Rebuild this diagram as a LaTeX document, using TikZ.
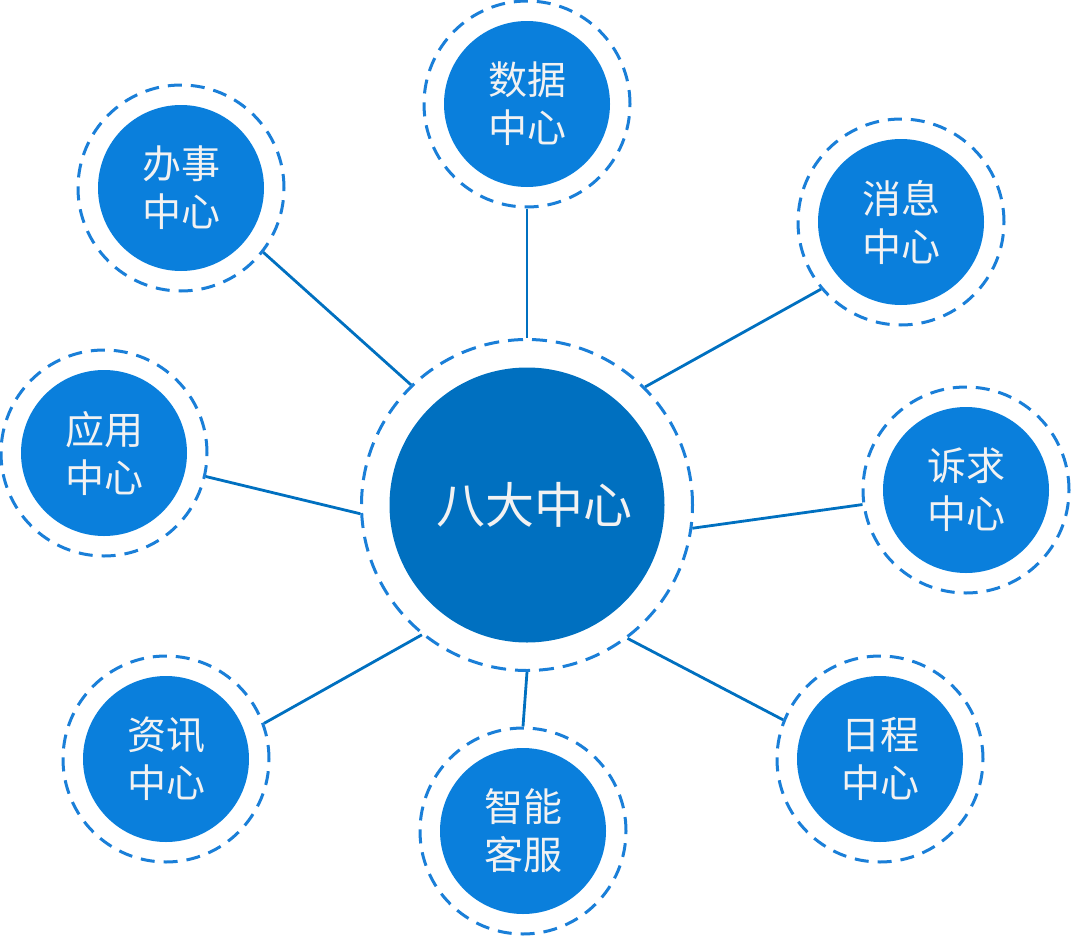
\documentclass[tikz,border=0pt]{standalone}
\usepackage{fontspec}
\newfontfamily\cjk{Noto Sans CJK SC}
\definecolor{sat}{HTML}{0A7FDC}
\definecolor{core}{HTML}{0070C0}
\definecolor{ringc}{HTML}{1A7FD8}
\definecolor{txt}{HTML}{F2F2F2}
\tikzset{
  satfill/.style={circle, fill=sat, minimum size=166pt, inner sep=0pt, text=txt,
    font=\cjk\fontsize{39}{48}\selectfont, align=center},
  satring/.style={circle, draw=ringc, line width=3pt, dash pattern=on 14pt off 9pt,
    minimum size=206pt, inner sep=0pt},
  corefill/.style={circle, fill=core, minimum size=275pt, inner sep=0pt, text=txt,
    font=\cjk\fontsize{49}{52}\selectfont},
  corering/.style={circle, draw=ringc, line width=3pt, dash pattern=on 15pt off 9pt,
    minimum size=331pt, inner sep=0pt},
  conn/.style={draw=core, line width=2.8pt}
}
\begin{document}
\begin{tikzpicture}[x=1pt,y=-1pt]
\useasboundingbox (0,0) rectangle (1071,937);
% center
\node[corering] (c) at (527,505) {};
\node[corefill] (cf) at (527,505) {\hspace{14pt}八大中心};
% satellites
\node[satring] (r1) at (527,104) {};
\node[satfill] (s1) at (527,104) {数据\\中心};
\node[satring] (r2) at (181,188) {};
\node[satfill] (s2) at (181,188) {办事\\中心};
\node[satring] (r3) at (901,222) {};
\node[satfill] (s3) at (901,222) {消息\\中心};
\node[satring] (r4) at (104,453) {};
\node[satfill] (s4) at (104,453) {应用\\中心};
\node[satring] (r5) at (966,490) {};
\node[satfill] (s5) at (966,490) {诉求\\中心};
\node[satring] (r6) at (166,759) {};
\node[satfill] (s6) at (166,759) {资讯\\中心};
\node[satring] (r7) at (523,831) {};
\node[satfill] (s7) at (523,831) {智能\\客服};
\node[satring] (r8) at (880,759) {};
\node[satfill] (s8) at (880,759) {日程\\中心};
% connectors
\draw[conn] (r1.270) -- (c.90);
\draw[conn] (r2.-38) -- (c.134.5);
\draw[conn] (r3.220.8) -- (c.45.2);
\draw[conn] (r4.-13.2) -- (c.183.5);
\draw[conn] (r5.188.2) -- (c.-8.9);
\draw[conn] (r6.20.6) -- (c.231.3);
\draw[conn] (r7.90) -- (c.270);
\draw[conn] (r8.158.3) -- (c.-53.1);
\end{tikzpicture}
\end{document}
